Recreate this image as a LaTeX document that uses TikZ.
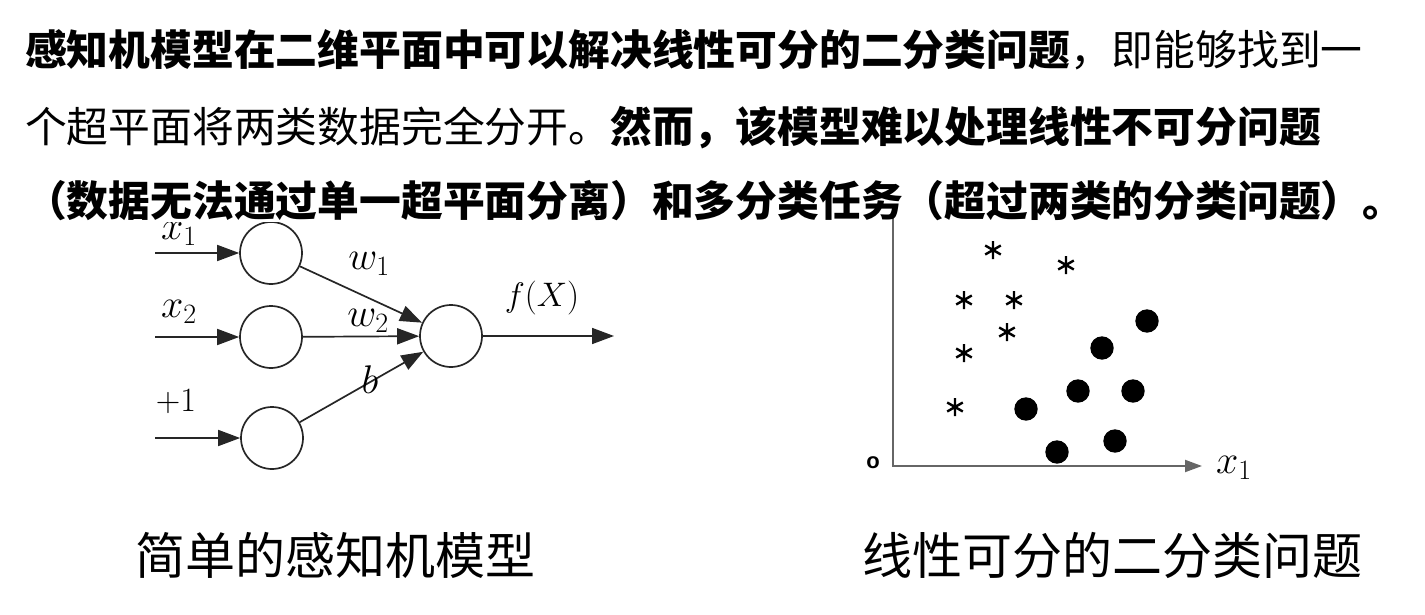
\RequirePackage{fix-cm}
\documentclass[tikz,border=0pt]{standalone}
\usepackage{fontspec}
\setmainfont{Liberation Sans}
\newfontfamily\cjk{Noto Sans CJK SC}
\usetikzlibrary{arrows.meta}
\begin{document}
\begin{tikzpicture}[x=1pt,y=-1pt,
 neuron/.style={circle,draw=black!85,line width=1.7pt,minimum size=62pt,inner sep=0pt},
 conn/.style={line width=1.7pt,draw=black!85,-{Triangle[length=22pt,width=16pt]}},
 axisline/.style={line width=2pt,draw=black!60,-{Triangle[length=17pt,width=12pt]}},
 lab/.style={inner sep=0pt,font=\fontsize{40}{46}\selectfont},
 labs/.style={inner sep=0pt,font=\fontsize{34}{40}\selectfont},
 txt/.style={anchor=base west,inner sep=0pt,font=\cjk\fontsize{41.8}{50}\selectfont},
 captext/.style={anchor=base west,inner sep=0pt,font=\cjk\fontsize{50}{60}\selectfont},
 ast/.pic={\draw[line width=2.4pt] (0,-9)--(0,9) (-7.8,-4.5)--(7.8,4.5) (-7.8,4.5)--(7.8,-4.5);}
]
\useasboundingbox (0,0) rectangle (1425,615);
% left: perceptron
\begin{scope}
\clip (0,222) rectangle (700,615);
\node[neuron] (n1) at (271,253) {};
\node[neuron] (n2) at (271,337) {};
\node[neuron] (n3) at (272,438) {};
\node[neuron] (out) at (451,336) {};
\coordinate (i1) at (155,253);
\coordinate (i2) at (155,337);
\coordinate (i3) at (155,438);
\coordinate (o) at (614,336);
\draw[conn] (i1) -- (n1);
\draw[conn] (i2) -- (n2);
\draw[conn] (i3) -- (n3);
\draw[conn] (n1) -- (out);
\draw[conn] (n2) -- (out);
\draw[conn] (n3) -- (out);
\draw[conn] (out) -- (o);
\node[lab] (lx1) at (179,234) {$x_1$};
\node[lab] (lx2) at (179,312) {$x_2$};
\node[labs] (lp1) at (176,402) {$+1$};
\node[lab] (lw1) at (369,264) {$w_1$};
\node[lab] (lw2) at (368,321) {$w_2$};
\node[lab] (lb) at (370,380) {$b$};
\node[labs] (lf) at (542,298) {$f(X)$};
\end{scope}
% right: scatter plot
\begin{scope}
\clip (700,205) rectangle (1425,615);
\coordinate (top) at (893,180);
\coordinate (O) at (893,466);
\coordinate (xend) at (1202,466);
\draw[axisline] (top) -- (O) -- (xend);
\node[inner sep=0pt,font=\bfseries\fontsize{22}{24}\selectfont] (lo) at (873,463) {o};
\node[lab] (lx1r) at (1234,468) {$x_1$};
\node[lab] (lx2r) at (862,196) {$x_2$};
\foreach \p in {(993,250),(1066,265),(964,300),(1014,300),(1007,332),(964,353),(955,407)}
  \pic at \p {ast};
\foreach \p in {(1147,321),(1102,348),(1078,391),(1133,391),(1026,409),(1115,441),(1057,452)}
  \fill \p circle (11.7);
\end{scope}
% text
\node[txt] (l1) at (25,66) {\bfseries 感知机模型在二维平面中可以解决线性可分的二分类问题\mdseries，即能够找到一};
\node[txt] (l2) at (25,143) {个超平面将两类数据完全分开。\bfseries 然而，该模型难以处理线性不可分问题};
\node[txt] (l3) at (25,216) {\bfseries （数据无法通过单一超平面分离）和多分类任务（超过两类的分类问题）。};
\node[captext] (c1) at (135,574) {简单的感知机模型};
\node[captext] (c2) at (862,574) {线性可分的二分类问题};
\end{tikzpicture}
\end{document}
